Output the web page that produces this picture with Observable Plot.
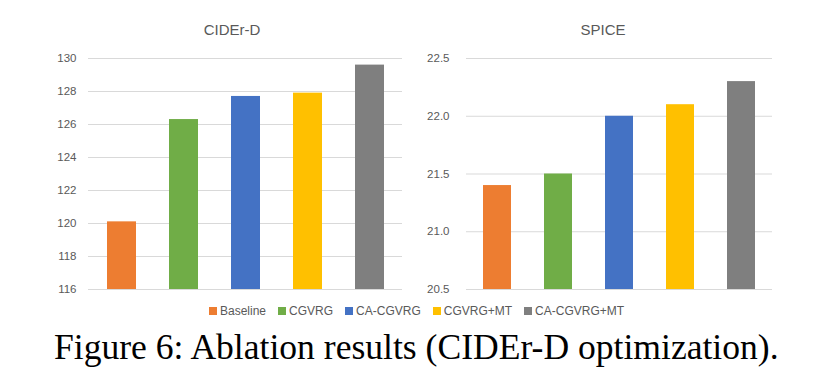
<!DOCTYPE html>
<html>
<head>
<meta charset="utf-8">
<script src="https://cdn.jsdelivr.net/npm/d3@7"></script>
<script src="https://cdn.jsdelivr.net/npm/@observablehq/plot@0.6"></script>
<style>
  html, body { margin: 0; padding: 0; background: #fff; }
  #wrap { position: relative; width: 818px; height: 382px; overflow: hidden; background: #fff; font-family: "Liberation Sans", Arial, sans-serif; }
  .panel { position: absolute; top: 0; }
  .ptitle { position: absolute; top: 22px; font-size: 15px; line-height: 15px; color: #595959; white-space: nowrap; transform: translateX(-50%); }
  #legend { position: absolute; left: 209px; top: 305px; display: flex; gap: 12px; font-size: 12px; line-height: 12px; color: #595959; white-space: nowrap; }
  #legend .item { display: flex; align-items: center; }
  #legend .sw { width: 8px; height: 8px; margin-right: 3px; }
  #caption { position: absolute; left: 54px; top: 330px; font-family: "Liberation Serif", "Times New Roman", serif; font-size: 35.6px; line-height: 35px; color: #000; white-space: nowrap; }
</style>
</head>
<body>
<div id="wrap"></div>
<script>
const categories = ["Baseline", "CGVRG", "CA-CGVRG", "CGVRG+MT", "CA-CGVRG+MT"];
const ciderValues = [120.1, 126.3, 127.7, 127.9, 129.6];
const spiceValues = [21.4, 21.5, 22.0, 22.1, 22.3];
const ciderTicks = [116, 118, 120, 122, 124, 126, 128, 130];
const ciderTickLabels = ["116", "118", "120", "122", "124", "126", "128", "130"];
const spiceTicks = [20.5, 21.0, 21.5, 22.0, 22.5];
const spiceTickLabels = ["20.5", "21.0", "21.5", "22.0", "22.5"];
const panelTitles = ["CIDEr-D", "SPICE"];
const captionText = "Figure 6: Ablation results (CIDEr-D optimization).";

const palette = ["#ED7D31", "#70AD47", "#4472C4", "#FFC000", "#7F7F7F"];

const wrap = document.getElementById("wrap");

function panel(values, ticks, labels, opts) {
  const base = ticks[0];
  const data = categories.map((c, i) => ({cat: c, value: values[i]}));
  return Plot.plot({
    width: opts.width,
    height: 300,
    marginTop: 58,
    marginBottom: 11,
    marginLeft: opts.marginLeft,
    marginRight: opts.marginRight,
    style: {background: "transparent", fontFamily: "Liberation Sans, Arial, sans-serif", fontSize: "11.5px", color: "#595959"},
    x: {domain: categories, paddingInner: 0.54, paddingOuter: 0.27, axis: null},
    y: {domain: [ticks[0], ticks[ticks.length - 1]]},
    color: {domain: categories, range: palette},
    marks: [
      Plot.ruleY(ticks, {stroke: "#D9D9D9", strokeWidth: 1}),
      Plot.barY(data, {x: "cat", y1: () => base, y2: "value", fill: "cat"}),
      Plot.axisY({ticks, tickSize: 0, tickPadding: opts.tickPadding, label: null, fill: "#595959",
        tickFormat: d => labels[ticks.indexOf(d)]})
    ]
  });
}

const left = panel(ciderValues, ciderTicks, ciderTickLabels, {width: 410, marginLeft: 88, marginRight: 8, tickPadding: 12});
left.classList.add("panel");
left.style.left = "0px";
wrap.appendChild(left);

const right = panel(spiceValues, spiceTicks, spiceTickLabels, {width: 409, marginLeft: 57, marginRight: 46, tickPadding: 17});
right.classList.add("panel");
right.style.left = "409px";
wrap.appendChild(right);

const titleX = [232, 603];
panelTitles.forEach((t, i) => {
  const d = document.createElement("div");
  d.className = "ptitle";
  d.style.left = titleX[i] + "px";
  d.textContent = t;
  wrap.appendChild(d);
});

const legend = document.createElement("div");
legend.id = "legend";
categories.forEach((c, i) => {
  const it = document.createElement("div");
  it.className = "item";
  const sw = document.createElement("span");
  sw.className = "sw";
  sw.style.background = palette[i];
  const tx = document.createElement("span");
  tx.textContent = c;
  it.appendChild(sw);
  it.appendChild(tx);
  legend.appendChild(it);
});
wrap.appendChild(legend);

const cap = document.createElement("div");
cap.id = "caption";
cap.textContent = captionText;
wrap.appendChild(cap);
</script>
</body>
</html>
